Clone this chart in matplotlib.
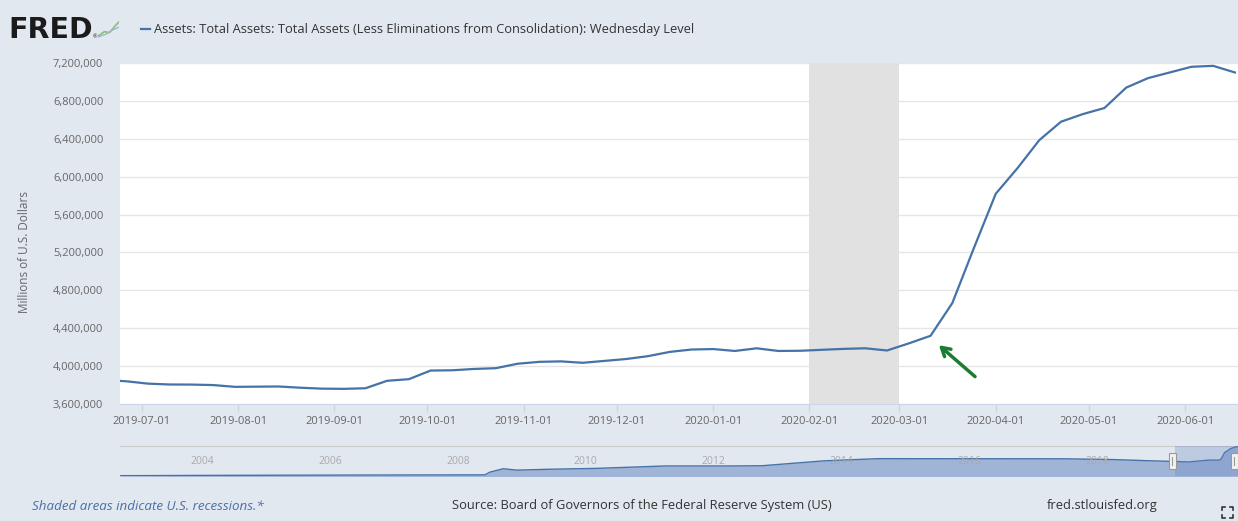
import matplotlib
matplotlib.use("Agg")
import matplotlib.pyplot as plt
import matplotlib.dates as mdates
from matplotlib.ticker import FuncFormatter, FixedLocator
from matplotlib.lines import Line2D
from matplotlib.patches import Rectangle
import pandas as pd

plt.rcParams['font.family'] = ['Open Sans', 'DejaVu Sans']

# Total assets, Wednesday level (millions of U.S. dollars), weekly
week_dates = pd.date_range("2019-06-19", "2020-06-17", freq="W-WED")
total_assets = [
    3853000, 3840000, 3815000, 3806000, 3805000, 3800000, 3781000,
    3783000, 3785000, 3772000, 3762000,
    3760000, 3766000, 3845000, 3862000,
    3953000, 3956000, 3970000, 3978000, 4025000,
    4045000, 4050000, 4035000, 4055000,
    4075000, 4105000, 4150000, 4175000,
    4180000, 4160000, 4188000, 4160000, 4162000,
    4172000, 4182000, 4188000, 4165000,
    4240000, 4320000, 4665000, 5250000,
    5820000, 6090000, 6385000, 6580000, 6660000,
    6725000, 6940000, 7040000, 7100000,
    7160000, 7170000, 7100000,
]

recession_start = "2020-02-01"
recession_end = "2020-03-01"

x_tick_dates = ["2019-07-01", "2019-08-01", "2019-09-01", "2019-10-01",
                "2019-11-01", "2019-12-01", "2020-01-01", "2020-02-01",
                "2020-03-01", "2020-04-01", "2020-05-01", "2020-06-01"]
y_ticks = [3600000, 4000000, 4400000, 4800000, 5200000, 5600000,
           6000000, 6400000, 6800000, 7200000]

# long history shown in the navigator strip
nav_dates = ["2002-12-18", "2003-06-25", "2004-01-07", "2005-01-05", "2006-01-04",
             "2007-01-03", "2008-01-02", "2008-09-03", "2008-10-01", "2008-12-17",
             "2009-03-04", "2009-09-02", "2010-06-02", "2011-06-29", "2012-06-27",
             "2013-01-02", "2013-12-25", "2014-10-29", "2016-01-06", "2017-10-04",
             "2018-06-27", "2019-01-02", "2019-09-11", "2020-01-01", "2020-02-26",
             "2020-03-11", "2020-04-01", "2020-05-06", "2020-06-10", "2020-06-17"]
nav_values = [720000, 740000, 770000, 810000, 840000,
              870000, 890000, 905000, 1500000, 2260000,
              1950000, 2140000, 2340000, 2870000, 2870000,
              2920000, 4010000, 4490000, 4480000, 4460000,
              4300000, 4060000, 3766000, 4180000, 4165000,
              4320000, 5820000, 6725000, 7170000, 7100000]
nav_years = ["2004", "2006", "2008", "2010", "2012", "2014", "2016", "2018"]

title = "Assets: Total Assets: Total Assets (Less Eliminations from Consolidation): Wednesday Level"
y_title = "Millions of U.S. Dollars"
note = "Shaded areas indicate U.S. recessions.*"
source = "Source: Board of Governors of the Federal Reserve System (US)"
site = "fred.stlouisfed.org"

# arrow pointing at the start of the surge (date, value)
arrow_head = ("2020-03-13", 4240000)
arrow_tail = ("2020-03-26", 3870000)

W, H = 1238, 521
BG = "#e2e8f0"
LINE = "#4572a7"


def fx(x):
    return x / W


def fy(y):
    return 1 - y / H


fig = plt.figure(figsize=(W / 100, H / 100), dpi=100)
fig.patch.set_facecolor(BG)

# main chart
ax = fig.add_axes([fx(120), fy(404), fx(1238) - fx(120), fy(63) - fy(404)])
ax.set_facecolor("white")
x = mdates.date2num(week_dates.to_pydatetime())
ax.plot(x, total_assets, color=LINE, lw=1.6, zorder=3, solid_joinstyle="round")
ax.axvspan(pd.Timestamp(recession_start), pd.Timestamp(recession_end),
           color="#e1e1e1", lw=0, zorder=2)
ax.set_xlim(pd.Timestamp("2019-06-24"), pd.Timestamp("2020-06-18"))
ax.set_ylim(y_ticks[0], y_ticks[-1])
ax.yaxis.set_major_locator(FixedLocator(y_ticks))
ax.yaxis.set_major_formatter(FuncFormatter(lambda v, p: f"{int(v):,}"))
ax.xaxis.set_major_locator(FixedLocator(mdates.date2num(pd.to_datetime(x_tick_dates))))
ax.xaxis.set_major_formatter(mdates.DateFormatter("%Y-%m-%d"))
ax.grid(axis="y", color="#e6e6e6", lw=1, zorder=1)
ax.set_axisbelow(True)
for s in ["top", "right", "left"]:
    ax.spines[s].set_visible(False)
ax.spines["bottom"].set_color("#ccd6eb")
ax.tick_params(axis="y", length=0, pad=12, labelsize=8, labelcolor="#666666")
ax.tick_params(axis="x", length=6, width=1, color="#ccd6eb", pad=3,
               labelsize=8, labelcolor="#666666")

ax.annotate("", xy=(pd.Timestamp(arrow_head[0]), arrow_head[1]),
            xytext=(pd.Timestamp(arrow_tail[0]), arrow_tail[1]),
            arrowprops=dict(arrowstyle="->,head_length=0.6,head_width=0.35",
                            color="#1e7b34", lw=2.5), zorder=5)

fig.text(fx(25), fy(252), y_title, rotation=90, ha="center", va="center",
         fontsize=8.5, color="#666666")

# navigator strip
nav = fig.add_axes([fx(120), fy(476), fx(1238) - fx(120), fy(446) - fy(476)])
nav.set_facecolor(BG)
nd = pd.to_datetime(nav_dates)
nav.fill_between(nd, nav_values, 0, color="#9fb4d6", lw=0, zorder=2)
nav.plot(nd, nav_values, color=LINE, lw=1, zorder=3)
nav.set_xlim(nd[0], nd[-1])
nav.set_ylim(650000, 7300000)
nav.axvspan(pd.Timestamp("2019-06-24"), pd.Timestamp("2020-06-17"),
            color=(102 / 255, 133 / 255, 194 / 255, 0.3), lw=0, zorder=4)
for yr in nav_years:
    nav.annotate(yr, xy=(pd.Timestamp(yr + "-01-01"), 0.5), xycoords=("data", "axes fraction"),
                 xytext=(3, 0), textcoords="offset points", ha="left", va="center",
                 fontsize=7.5, color="#aaaaaa", zorder=5)
nav.set_xticks([])
nav.set_yticks([])
for s in ["left", "right", "bottom"]:
    nav.spines[s].set_visible(False)
nav.spines["top"].set_color("#cccccc")
for hx_px in [1172, 1234]:
    fig.patches.append(Rectangle((fx(hx_px - 3.5), fy(469)), fx(7), fy(453) - fy(469),
                                 transform=fig.transFigure, facecolor="#f2f2f2",
                                 edgecolor="#999999", lw=0.8, zorder=6))
    fig.lines.append(Line2D([fx(hx_px), fx(hx_px)], [fy(457), fy(465)],
                            transform=fig.transFigure, color="#999999", lw=0.8, zorder=7))

# header
fig.text(fx(8), fy(30), "FRED", fontsize=20.5, fontweight="heavy",
         family=["DejaVu Sans"], color="#1b1b1b", ha="left", va="center")
fig.text(fx(93), fy(37), "®", fontsize=4, color="#1b1b1b", ha="left", va="center")
icon = fig.add_axes([fx(98), fy(38), fx(21), fy(20) - fy(38)])
icon.set_facecolor("#e9eef3")
icon.plot([0, 0.3, 0.55, 0.8, 1.0], [0.1, 0.35, 0.3, 0.65, 0.9], color="#8cbf6a", lw=1.2)
icon.plot([0, 0.35, 0.7, 1.0], [0.05, 0.2, 0.45, 0.6], color="#9fb4d6", lw=1)
icon.set_xlim(0, 1)
icon.set_ylim(0, 1)
icon.axis("off")
fig.lines.append(Line2D([fx(141), fx(150)], [fy(29), fy(29)], transform=fig.transFigure,
                        color=LINE, lw=1.6))
fig.text(fx(154), fy(29), title, fontsize=9.3, color="#333333", ha="left", va="center")

# footer
fig.text(fx(32), fy(506), note, fontsize=9.6, style="italic", color="#4a6fa5",
         ha="left", va="center")
fig.text(fx(452), fy(506), source, fontsize=9.3, color="#333333", ha="left", va="center")
fig.text(fx(1047), fy(506), site, fontsize=9.3, color="#333333", ha="left", va="center")
for (x0, y0, dx, dy) in [(1222, 507, 1, 1), (1233, 507, -1, 1), (1222, 518, 1, -1), (1233, 518, -1, -1)]:
    fig.lines.append(Line2D([fx(x0), fx(x0), fx(x0 + 3 * dx)],
                            [fy(y0 + 3 * dy), fy(y0), fy(y0)],
                            transform=fig.transFigure, color="#333333", lw=1.2))

fig.savefig("out.png", dpi=100, facecolor=BG)
